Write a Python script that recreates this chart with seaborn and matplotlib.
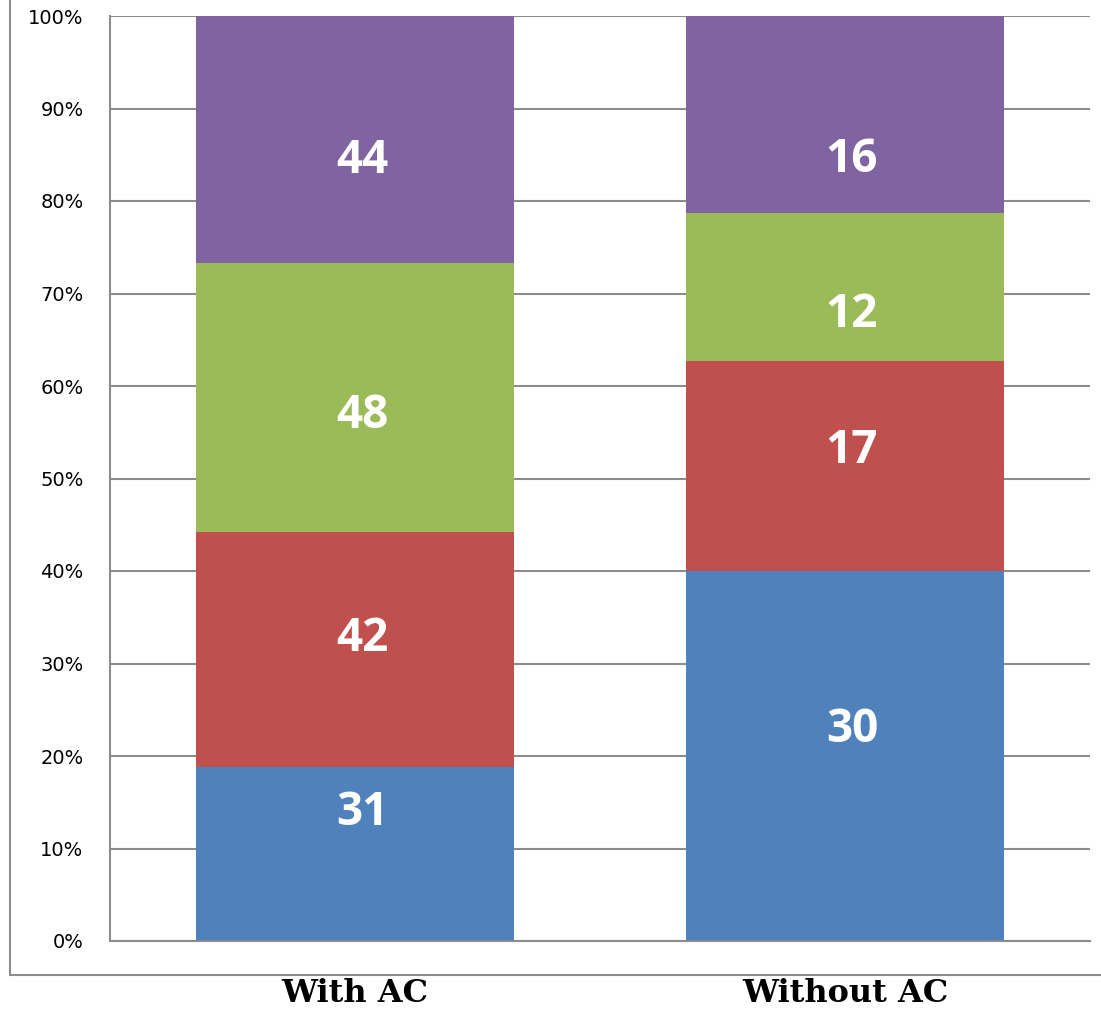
import numpy as np
import pandas as pd
import matplotlib.pyplot as plt
import seaborn as sns
from matplotlib.lines import Line2D

# Data
groups = ["With AC", "Without AC"]
segments = ["A", "B", "C", "D"]
seg_colors = ["#4F81BD", "#C0504D", "#9BBB59", "#8064A2"]
with_ac = [31, 42, 48, 44]
without_ac = [30, 17, 12, 16]

# where the number labels sit (percent of the bar), as in the original
label_pos_with = [13.9, 32.7, 56.8, 84.4]
label_pos_without = [22.9, 53.0, 67.7, 84.5]

counts = np.array([with_ac, without_ac], dtype=float)
pct = counts / counts.sum(axis=1, keepdims=True) * 100
cum = pct.cumsum(axis=1)

data = pd.DataFrame(cum, index=groups, columns=segments).reset_index()
data = data.rename(columns={"index": "group"})

sns.set_style("white")
plt.rcParams['font.family'] = ['DejaVu Sans']

fig = plt.figure(figsize=(11.01, 10.09), dpi=100)
ax = fig.add_axes([110 / 1101, 1 - 941 / 1009, 980 / 1101, 925 / 1009])

grid_col = "#8c8c8c"

# ================= STACKED BARS =================
# draw the cumulative layers from the top down so each one covers the next
for i in reversed(range(len(segments))):
    sns.barplot(data=data, x="group", y=segments[i], order=groups,
                color=seg_colors[i], saturation=1, width=0.647,
                linewidth=0, ax=ax, zorder=2)

# value labels
label_pos = [label_pos_with, label_pos_without]
for j in range(len(groups)):
    for i in range(len(segments)):
        ax.annotate("%d" % counts[j, i], (j, label_pos[j][i]),
                    xytext=(5, 0), textcoords="offset points",
                    ha="center", va="center", color="white",
                    fontsize=33, fontweight="bold", family="Open Sans",
                    zorder=3)

ax.set_xlim(-0.5, 1.5)
ax.set_ylim(0, 100)
ax.set_yticks(np.arange(0, 101, 10))
ax.set_yticklabels(["%d%%" % v for v in range(0, 101, 10)], fontsize=14,
                   color="black")
ax.set_xlabel("")
ax.set_ylabel("")

ax.yaxis.grid(True, color=grid_col, linewidth=1.5)
ax.set_axisbelow(True)

for side in ["top", "right"]:
    ax.spines[side].set_visible(False)
for side in ["left", "bottom"]:
    ax.spines[side].set_color(grid_col)
    ax.spines[side].set_linewidth(1.5)

ax.tick_params(axis="y", length=0, pad=19)
ax.tick_params(axis="x", length=0, pad=27)
for lab in ax.get_xticklabels():
    lab.set_family("DejaVu Serif")
    lab.set_fontweight("heavy")
    lab.set_fontsize(23)
    lab.set_color("black")

# outer chart-area border (left and bottom only visible)
fig.add_artist(Line2D([10 / 1101, 10 / 1101], [1.0, 1 - 975 / 1009],
                      color=grid_col, linewidth=1.5))
fig.add_artist(Line2D([10 / 1101, 1.0], [1 - 975 / 1009, 1 - 975 / 1009],
                      color=grid_col, linewidth=1.5))

plt.savefig("out.png", dpi=100)
plt.close()
